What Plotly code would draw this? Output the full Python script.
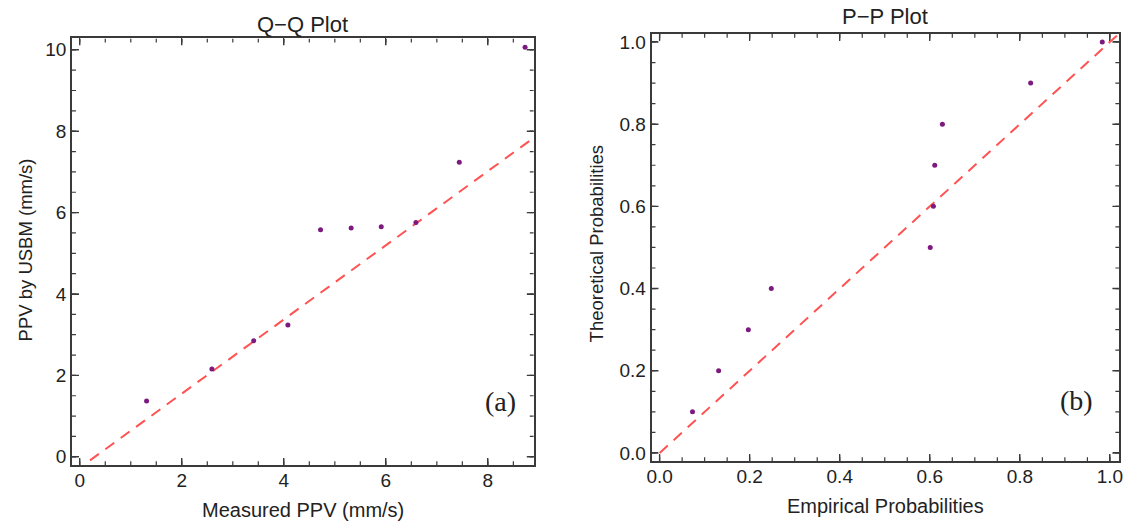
import numpy as np
import plotly.graph_objects as go

# Q-Q plot: measured PPV vs PPV predicted by the USBM equation (mm/s)
measured_ppv = [1.31, 2.59, 3.41, 4.08, 4.72, 5.32, 5.91, 6.59, 7.44, 8.73]
usbm_ppv = [1.37, 2.16, 2.85, 3.24, 5.58, 5.62, 5.65, 5.76, 7.24, 10.06]
qq_fit_slope = 0.911
qq_fit_intercept = -0.27
qq_fit_x = [0.2, 8.95]

# P-P plot: empirical vs theoretical cumulative probabilities
empirical_p = [0.073, 0.131, 0.197, 0.248, 0.601, 0.608, 0.611, 0.628, 0.824, 0.983]
theoretical_p = [0.1, 0.2, 0.3, 0.4, 0.5, 0.6, 0.7, 0.8, 0.9, 1.0]
pp_ref_x = [0.0, 1.05]

W, H = 1131, 525
FONT = "Liberation Sans, Arial, sans-serif"
AXIS_COLOR = "#3a3a3a"
TEXT_COLOR = "#222222"
POINT_COLOR = "#7d1a80"
LINE_COLOR = "#ff5252"
MAJOR_LEN, MINOR_LEN = 7, 4


def px_x(p):
    return p / W


def px_y(p):
    return 1 - p / H


qq_xdom, qq_ydom = [px_x(67.5), px_x(533)], [px_y(466.7), px_y(36.7)]
qq_xr, qq_yr = [-0.153, 8.90], [-0.205, 10.28]
pp_xdom, pp_ydom = [px_x(651.7), px_x(1123.3)], [px_y(462.7), px_y(32)]
pp_xr, pp_yr = [-0.018, 1.021], [-0.02, 1.02]

fig = go.Figure()


def tick_values(rng, step):
    start = np.ceil(rng[0] / step - 1e-9) * step
    return np.arange(start, rng[1] + 1e-9, step)


def frame_ticks(xid, yid, xdom, ydom, xr, yr, major, minor):
    # inward tick marks on all four sides of the frame, drawn as one line trace
    w_px = (xdom[1] - xdom[0]) * W
    h_px = (ydom[1] - ydom[0]) * H
    ux = (xr[1] - xr[0]) / w_px
    uy = (yr[1] - yr[0]) / h_px
    for k in (0, 1):
        step_x, step_y = (minor[0], minor[1]) if k == 0 else (major[0], major[1])
        length = MINOR_LEN if k == 0 else MAJOR_LEN
        tx, ty = [], []
        for v in tick_values(xr, step_x):
            tx += [v, v, None, v, v, None]
            ty += [yr[0], yr[0] + length * uy, None, yr[1], yr[1] - length * uy, None]
        for v in tick_values(yr, step_y):
            ty += [v, v, None, v, v, None]
            tx += [xr[0], xr[0] + length * ux, None, xr[1], xr[1] - length * ux, None]
        fig.add_trace(go.Scatter(
            x=tx, y=ty, mode="lines", xaxis=xid, yaxis=yid,
            line=dict(color=AXIS_COLOR, width=1.2 if k == 0 else 1.4),
            showlegend=False, hoverinfo="skip", cliponaxis=False))


frame_ticks("x", "y", qq_xdom, qq_ydom, qq_xr, qq_yr, (2, 2), (0.5, 0.5))
frame_ticks("x2", "y2", pp_xdom, pp_ydom, pp_xr, pp_yr, (0.2, 0.2), (0.05, 0.05))

fig.add_trace(go.Scatter(
    x=qq_fit_x, y=[qq_fit_slope * v + qq_fit_intercept for v in qq_fit_x],
    mode="lines", line=dict(color=LINE_COLOR, width=2, dash="11px,8px"),
    xaxis="x", yaxis="y", showlegend=False, hoverinfo="skip"))
fig.add_trace(go.Scatter(
    x=measured_ppv, y=usbm_ppv, mode="markers",
    marker=dict(color=POINT_COLOR, size=5),
    xaxis="x", yaxis="y", showlegend=False))

fig.add_trace(go.Scatter(
    x=pp_ref_x, y=pp_ref_x,
    mode="lines", line=dict(color=LINE_COLOR, width=2, dash="11px,8px"),
    xaxis="x2", yaxis="y2", showlegend=False, hoverinfo="skip"))
fig.add_trace(go.Scatter(
    x=empirical_p, y=theoretical_p, mode="markers",
    marker=dict(color=POINT_COLOR, size=5),
    xaxis="x2", yaxis="y2", showlegend=False))


def frame_axis(domain, rng, dtick, anchor, fmt=None, standoff=None):
    ax = dict(
        domain=domain, range=rng, dtick=dtick, tick0=0,
        showline=True, linecolor=AXIS_COLOR, linewidth=1.6, mirror="ticks",
        ticks="inside", ticklen=MAJOR_LEN, tickwidth=1.4, tickcolor=AXIS_COLOR,
        showgrid=False, zeroline=False,
        tickfont=dict(family=FONT, size=19, color=TEXT_COLOR),
        anchor=anchor,
    )
    if fmt:
        ax["tickformat"] = fmt
    if standoff is not None:
        ax["ticklabelstandoff"] = standoff
    return ax


fig.update_layout(
    width=W, height=H,
    margin=dict(l=0, r=0, t=0, b=0),
    paper_bgcolor="white", plot_bgcolor="white",
    xaxis=frame_axis(qq_xdom, qq_xr, 2, "y", standoff=-3),
    yaxis=frame_axis(qq_ydom, qq_yr, 2, "x"),
    xaxis2=frame_axis(pp_xdom, pp_xr, 0.2, "y2", ".1f", standoff=-3),
    yaxis2=frame_axis(pp_ydom, pp_yr, 0.2, "x2", ".1f"),
)


def label(text, x, y, size=20, angle=0, family=FONT):
    fig.add_annotation(
        text=text, x=px_x(x), y=px_y(y), xref="paper", yref="paper",
        showarrow=False, textangle=angle, xanchor="center", yanchor="middle",
        font=dict(family=family, size=size, color=TEXT_COLOR))


label("Q\u2212Q Plot", 300, 23, size=22)
label("P\u2212P Plot", 887.5, 15, size=22)
label("Measured PPV (mm/s)", 300, 511.7)
label("Empirical Probabilities", 887.5, 508.3)
label("PPV by USBM (mm/s)", 20.5, 250, size=18.5, angle=-90)
label("Theoretical Probabilities", 596, 244, size=18.5, angle=-90)
label("(a)", 499, 403, size=28, family="Liberation Serif, serif")
label("(b)", 1080, 402, size=28, family="Liberation Serif, serif")

fig.write_html("out.html")
